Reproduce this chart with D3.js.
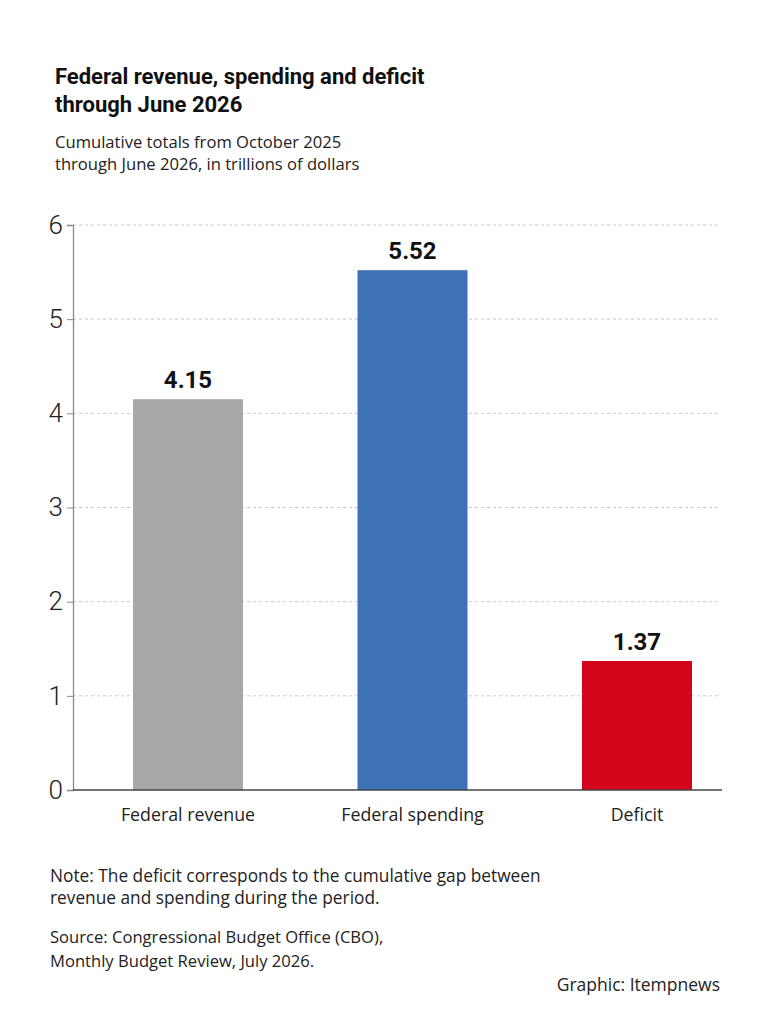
<!DOCTYPE html>
<html><head><meta charset="utf-8">
<script src="https://cdn.jsdelivr.net/npm/d3@7"></script>
<style>
body{margin:0;background:#fff;}
svg{display:block;}
</style></head>
<body>
<script>
const categories = ["Federal revenue", "Federal spending", "Deficit"];
const values = [4.15, 5.52, 1.37];
const valueLabels = ["4.15", "5.52", "1.37"];
const barColors = ["#a8a8a8", "#3d72b7", "#d4051b"];
const yTicks = [0, 1, 2, 3, 4, 5, 6];
const titleLines = ["Federal revenue, spending and deficit", "through June 2026"];
const subtitleLines = ["Cumulative totals from October 2025", "through June 2026, in trillions of dollars"];
const noteLines = ["Note: The deficit corresponds to the cumulative gap between", "revenue and spending during the period."];
const sourceLines = ["Source: Congressional Budget Office (CBO),", "Monthly Budget Review, July 2026."];
const credit = "Graphic: Itempnews";

const W = 768, H = 1024;
const svg = d3.select("body").append("svg").attr("width", W).attr("height", H);
svg.append("rect").attr("width", W).attr("height", H).attr("fill", "#fff");

const bodyFont = "'Open Sans','Noto Sans',sans-serif";
const titleFont = "Roboto,'Noto Sans',sans-serif";

svg.append("g").selectAll("text").data(titleLines).join("text")
  .attr("x", 55).attr("y", (d, i) => 84 + i * 28)
  .attr("font-family", titleFont).attr("font-weight", 700).attr("font-size", 22)
  .attr("fill", "#111").text(d => d);

svg.append("g").selectAll("text").data(subtitleLines).join("text")
  .attr("x", 55).attr("y", (d, i) => 148 + i * 22)
  .attr("font-family", bodyFont).attr("font-size", 16.6)
  .attr("fill", "#222").text(d => d);

const y = d3.scaleLinear().domain([0, 6]).range([790, 225]);
const x = d3.scaleBand().domain(categories).range([75.75, 749.25]).paddingInner(0.51).paddingOuter(0.255);

// gridlines
svg.append("g").selectAll("line").data(yTicks.filter(t => t > 0)).join("line")
  .attr("x1", 73).attr("x2", 721).attr("y1", d => y(d)).attr("y2", d => y(d))
  .attr("stroke", "#c8c8c8").attr("stroke-width", 1).attr("stroke-dasharray", "3,3");

// y axis
const yAxis = d3.axisLeft(y).tickValues(yTicks).tickSize(6).tickPadding(4).tickFormat(d3.format("d"));
const gy = svg.append("g").attr("transform", "translate(73,0)").call(yAxis);
gy.select(".domain").attr("stroke", "#8a8a8a").attr("stroke-width", 1.3);
gy.selectAll(".tick line").attr("stroke", "#8a8a8a");
gy.selectAll(".tick text").attr("font-family", "Roboto,'Noto Sans',sans-serif").attr("font-weight", 300)
  .attr("font-size", 26).attr("fill", "#222");

// bars
svg.append("g").selectAll("rect").data(values).join("rect")
  .attr("x", (d, i) => x(categories[i]))
  .attr("y", d => y(d))
  .attr("width", x.bandwidth())
  .attr("height", d => y(0) - y(d))
  .attr("fill", (d, i) => barColors[i]);

// baseline
svg.append("line").attr("x1", 73).attr("x2", 722).attr("y1", y(0)).attr("y2", y(0))
  .attr("stroke", "#444").attr("stroke-width", 1.5);

// value labels
svg.append("g").selectAll("text").data(values).join("text")
  .attr("x", (d, i) => x(categories[i]) + x.bandwidth() / 2)
  .attr("y", d => y(d) - 11)
  .attr("text-anchor", "middle")
  .attr("font-family", titleFont).attr("font-weight", 700).attr("font-size", 24)
  .attr("fill", "#111").text((d, i) => valueLabels[i]);

// category labels
svg.append("g").selectAll("text").data(categories).join("text")
  .attr("x", d => x(d) + x.bandwidth() / 2)
  .attr("y", 821)
  .attr("text-anchor", "middle")
  .attr("font-family", bodyFont).attr("font-size", 17.8)
  .attr("fill", "#222").text(d => d);

// notes
svg.append("g").selectAll("text").data(noteLines).join("text")
  .attr("x", 50).attr("y", (d, i) => 882 + i * 22)
  .attr("font-family", bodyFont).attr("font-size", 17.3)
  .attr("fill", "#222").text(d => d);

svg.append("g").selectAll("text").data(sourceLines).join("text")
  .attr("x", 50).attr("y", (d, i) => 943 + i * 24)
  .attr("font-family", bodyFont).attr("font-size", 16.6)
  .attr("fill", "#222").text(d => d);

svg.append("text").attr("x", 720).attr("y", 991).attr("text-anchor", "end")
  .attr("font-family", bodyFont).attr("font-size", 17.5)
  .attr("fill", "#222").text(credit);
</script>
</body></html>
